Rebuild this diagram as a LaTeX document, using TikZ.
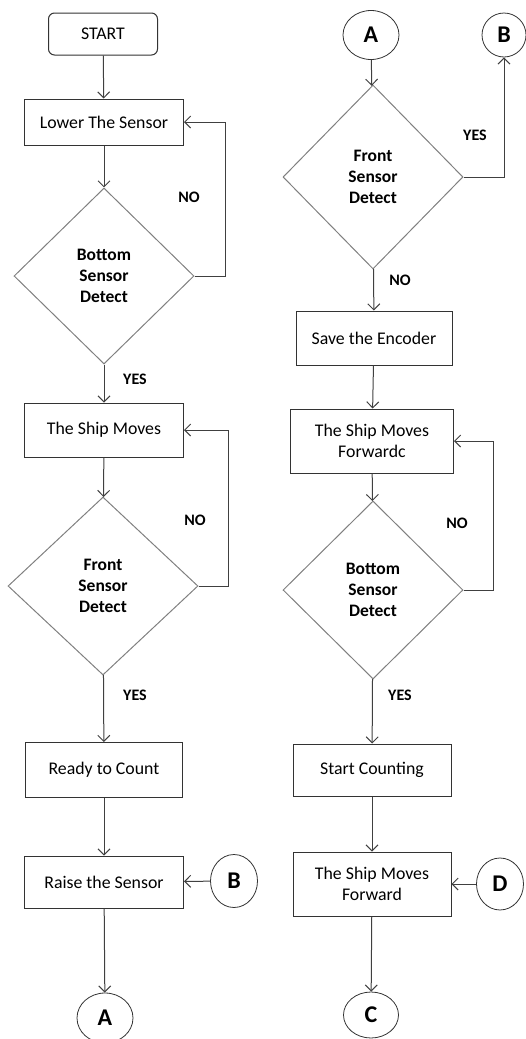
\documentclass[tikz,border=0pt]{standalone}
\usepackage{fontspec}
\setmainfont{Carlito}
\usetikzlibrary{shapes.geometric,arrows.meta}

\begin{document}
\begin{tikzpicture}[%
  x=1pt, y=-1pt,
  box/.style={draw=black!80, line width=1pt, align=center, inner sep=0pt,
    font=\fontsize{17.8}{21}\selectfont},
  decision/.style={diamond, draw=black!50, line width=1pt, align=center,
    inner sep=0pt, font=\bfseries\fontsize{17.5}{21}\selectfont},
  conn/.style={ellipse, draw=black!80, line width=0.8pt, inner sep=0pt,
    font=\bfseries\fontsize{24}{24}\selectfont},
  lbl/.style={font=\bfseries\fontsize{16}{16}\selectfont},
  flow/.style={draw=black!75, line width=1pt, -{Straight Barb[length=6pt,width=12pt]}}
  ]
  \useasboundingbox (0,0) rectangle (525,1039);
  % left column
  \node[box, rounded corners=6pt, minimum width=109, minimum height=42] (start) at (103,34) {START};
  \node[box, minimum width=159, minimum height=46] (lower) at (104,122) {Lower The Sensor};
  \node[decision, minimum width=180, minimum height=176] (bsd1) at (104,276) {Bottom\\Sensor\\Detect};
  \node[box, minimum width=159, minimum height=54] (moves) at (104,430) {The Ship Moves};
  \node[decision, minimum width=190, minimum height=178] (fsd1) at (103,586) {Front\\Sensor\\Detect};
  \node[box, minimum width=157, minimum height=55] (ready) at (104,770) {Ready to Count};
  \node[box, minimum width=159, minimum height=52] (raise) at (104,882) {Raise the Sensor};
  \node[conn, minimum width=47, minimum height=53] (b1) at (234,881) {B};
  \node[conn, minimum width=56, minimum height=50] (a1) at (105,1018) {A};
  % right column
  \node[conn, minimum width=56, minimum height=49] (a2) at (371,35) {A};
  \node[conn, minimum width=44, minimum height=44] (b2) at (504,35) {B};
  \node[decision, minimum width=180, minimum height=184] (fsd2) at (373,177) {Front\\Sensor\\Detect};
  \node[box, minimum width=156, minimum height=54] (save) at (374,338) {Save the Encoder};
  \node[box, minimum width=163, minimum height=64] (fwdc) at (372,441) {The Ship Moves\\Forwardc};
  \node[decision, minimum width=180, minimum height=178] (bsd2) at (373,590) {Bottom\\Sensor\\Detect};
  \node[box, minimum width=158, minimum height=52] (count) at (372,770) {Start Counting};
  \node[box, minimum width=158, minimum height=64] (fwd) at (372,884) {The Ship Moves\\Forward};
  \node[conn, minimum width=47, minimum height=52] (d) at (500,884) {D};
  \node[conn, minimum width=55, minimum height=46] (c) at (371,1015) {C};
  % labels
  \node[lbl] (no1) at (189,197) {NO};
  \node[lbl] (yes1) at (135,379) {YES};
  \node[lbl] (no2) at (195,520) {NO};
  \node[lbl] (yes2) at (135,695) {YES};
  \node[lbl] (yes3) at (475,135) {YES};
  \node[lbl] (no3) at (400,280) {NO};
  \node[lbl] (no4) at (457,523) {NO};
  \node[lbl] (yes4) at (400,695) {YES};
  % connectors
  \draw[flow] (start) -- (lower);
  \draw[flow] (lower) -- (bsd1);
  \draw[flow] (bsd1.east) -- ++(31,0) |- (lower.east);
  \draw[flow] (bsd1) -- (moves);
  \draw[flow] (moves) -- (fsd1);
  \draw[flow] (fsd1.east) -- ++(30,0) |- (moves.east);
  \draw[flow] (fsd1) -- (ready);
  \draw[flow] (ready) -- (raise);
  \draw[flow] (b1) -- (raise);
  \draw[flow] (raise) -- (a1);
  \draw[flow] (a2) -- (fsd2);
  \draw[flow] (fsd2.east) -| (b2);
  \draw[flow] (fsd2) -- (save);
  \draw[flow] (save) -- (fwdc);
  \draw[flow] (fwdc) -- (bsd2);
  \draw[flow] (bsd2.east) -- ++(30,0) |- (fwdc.east);
  \draw[flow] (bsd2) -- (count);
  \draw[flow] (count) -- (fwd);
  \draw[flow] (d) -- (fwd);
  \draw[flow] (fwd) -- (c);
\end{tikzpicture}
\end{document}
